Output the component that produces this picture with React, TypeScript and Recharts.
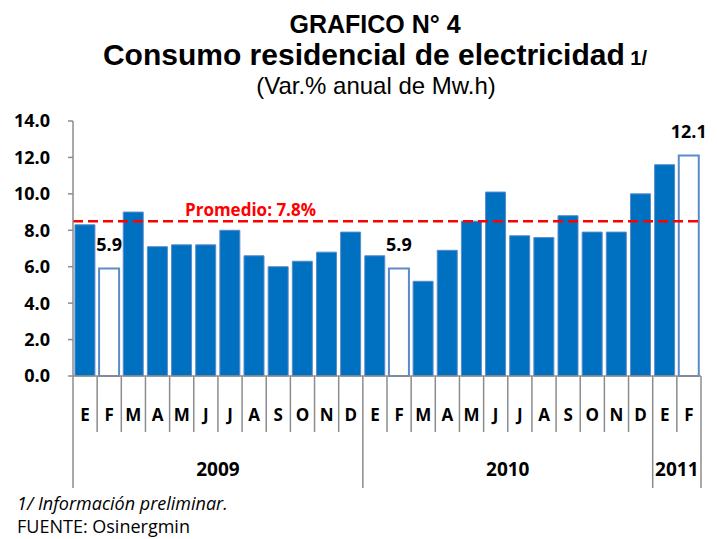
import { Bar, BarChart, Cell, LabelList, ReferenceLine, XAxis, YAxis } from 'recharts';

const MONTHS = ['E', 'F', 'M', 'A', 'M', 'J', 'J', 'A', 'S', 'O', 'N', 'D', 'E', 'F', 'M', 'A', 'M', 'J', 'J', 'A', 'S', 'O', 'N', 'D', 'E', 'F'];
const VALUES = [8.3, 5.9, 9.0, 7.1, 7.2, 7.2, 8.0, 6.6, 6.0, 6.3, 6.8, 7.9, 6.6, 5.9, 5.2, 6.9, 8.5, 10.1, 7.7, 7.6, 8.8, 7.9, 7.9, 10.0, 11.6, 12.1];
// months drawn as hollow bars (with a value label)
const HOLLOW = [1, 13, 25];
const YEARS = ['2009', '2010', '2011'];
const YEAR_MONTHS = [12, 12, 2];
const Y_TICKS = [0, 2, 4, 6, 8, 10, 12, 14];
const AVERAGE_LINE = 8.5;
const AVERAGE_LABEL = 'Promedio: 7.8%';

const W = 717;
const H = 539;
const PLOT_LEFT = 73;
const PLOT_RIGHT = 701;
const BAND = (PLOT_RIGHT - PLOT_LEFT) / MONTHS.length;
const AXIS_GREY = '#8c8c8c';
const BLUE = '#0070C0';
const EDGE = '#5B8BCB';
const BODY_FONT = '"Open Sans", sans-serif';

const data = MONTHS.map((m, i) => ({ month: m, value: VALUES[i], hollow: HOLLOW.includes(i) }));

// first month index of each year group
const yearStarts = YEAR_MONTHS.map((_, i) => YEAR_MONTHS.slice(0, i).reduce((a, b) => a + b, 0));

function MonthTick(props: any) {
  const { x, y, payload, index } = props;
  const left = x - BAND / 2;
  const yearIdx = yearStarts.indexOf(index);
  const isLast = index === MONTHS.length - 1;
  return (
    <g>
      <line x1={left} x2={left} y1={y} y2={yearIdx >= 0 ? 488 : 432} stroke={AXIS_GREY} strokeWidth={1.5} />
      {isLast && <line x1={left + BAND} x2={left + BAND} y1={y} y2={488} stroke={AXIS_GREY} strokeWidth={1.5} />}
      <text x={x} y={y + 45} textAnchor="middle" fontFamily={BODY_FONT} fontWeight={700} fontSize={17} fill="#000">
        {payload.value}
      </text>
      {yearIdx >= 0 && (
        <text
          x={left + (YEAR_MONTHS[yearIdx] * BAND) / 2}
          y={y + 100}
          textAnchor="middle"
          fontFamily={BODY_FONT}
          fontWeight={700}
          fontSize={19}
          fill="#000"
        >
          {YEARS[yearIdx]}
        </text>
      )}
    </g>
  );
}

function HollowLabel(props: any) {
  const { x, y, width, value, index } = props;
  if (!HOLLOW.includes(index)) return null;
  return (
    <text x={x + width / 2} y={y - 18} textAnchor="middle" fontFamily={BODY_FONT} fontWeight={700} fontSize={18} fill="#000">
      {value.toFixed(1)}
    </text>
  );
}

function AverageLabel(props: any) {
  const { viewBox } = props;
  return (
    <text x={viewBox.x + 112} y={viewBox.y - 5} fontFamily={BODY_FONT} fontWeight={700} fontSize={17} fill="#FF0000">
      {AVERAGE_LABEL}
    </text>
  );
}

export default function App() {
  return (
    <div style={{ position: 'relative', width: W, height: H, background: '#fff' }}>
      <style>{'body{margin:0}'}</style>
      <svg width={W} height={H} style={{ position: 'absolute', left: 0, top: 0 }}>
        <g fontFamily='"Liberation Sans", Arial, sans-serif' fill="#000" textAnchor="middle">
          <text x={375} y={33} fontSize={25} fontWeight={700}>GRAFICO N° 4</text>
          <text x={375} y={65} fontSize={30} fontWeight={700}>
            Consumo residencial de electricidad<tspan fontSize={20}> 1/</tspan>
          </text>
          <text x={376} y={94} fontSize={24}>(Var.% anual de Mw.h)</text>
        </g>
        <text x={17} y={510} fontFamily={BODY_FONT} fontStyle="italic" fontSize={18} fill="#000">
          1/ Información preliminar.
        </text>
        <text x={17} y={533} fontFamily={BODY_FONT} fontSize={18} fill="#000">
          FUENTE: Osinergmin
        </text>
      </svg>
      <div style={{ position: 'absolute', left: 0, top: 0 }}>
        <BarChart
          width={W}
          height={H}
          data={data}
          margin={{ top: 121, right: W - PLOT_RIGHT, bottom: 51, left: PLOT_LEFT - 60 }}
          barCategoryGap="8%"
        >
          <XAxis
            dataKey="month"
            interval={0}
            height={112}
            tickSize={0}
            tickMargin={0}
            tickLine={false}
            axisLine={{ stroke: AXIS_GREY, strokeWidth: 1.5 }}
            tick={<MonthTick />}
          />
          <YAxis
            width={60}
            domain={[0, 14]}
            ticks={Y_TICKS}
            tickFormatter={(v: number) => v.toFixed(1)}
            tickSize={5}
            tickMargin={18}
            axisLine={{ stroke: AXIS_GREY, strokeWidth: 1.5 }}
            tickLine={{ stroke: AXIS_GREY, strokeWidth: 1.5 }}
            tick={{ fontFamily: BODY_FONT, fontWeight: 700, fontSize: 18, fill: '#000' }}
          />
          <Bar dataKey="value" isAnimationActive={false}>
            {data.map((d, i) => (
              <Cell key={i} fill={d.hollow ? '#fff' : BLUE} stroke={EDGE} strokeWidth={d.hollow ? 2 : 1} />
            ))}
            <LabelList dataKey="value" content={<HollowLabel />} />
          </Bar>
          <ReferenceLine
            y={AVERAGE_LINE}
            stroke="#FF0000"
            strokeWidth={2.5}
            strokeDasharray="10 5"
            label={<AverageLabel />}
          />
        </BarChart>
      </div>
    </div>
  );
}
